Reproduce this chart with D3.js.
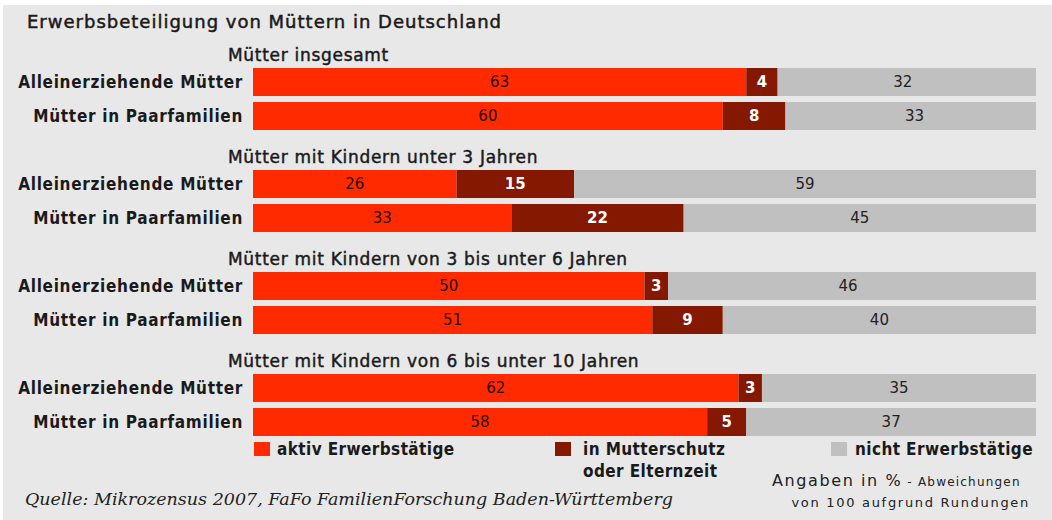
<!DOCTYPE html>
<head>
  <title>Erwerbsbeteiligung von Müttern</title>
  <meta charset="UTF-8" />
  <style>
    body { margin: 0; background: #fff; }
    svg { display: block; }
  </style>
</head>
<body>
  <svg width="1052" height="520"></svg>
</body>

<script src="https://cdn.jsdelivr.net/npm/d3@7"></script>
<script>
  // Data
  const groups = [
    "Mütter insgesamt",
    "Mütter mit Kindern unter 3 Jahren",
    "Mütter mit Kindern von 3 bis unter 6 Jahren",
    "Mütter mit Kindern von 6 bis unter 10 Jahren"
  ];
  const rowLabels = ["Alleinerziehende Mütter", "Mütter in Paarfamilien"];
  const series = ["aktiv Erwerbstätige", "in Mutterschutz oder Elternzeit", "nicht Erwerbstätige"];
  const aktiv = [63, 60, 26, 33, 50, 51, 62, 58];
  const mutterschutz = [4, 8, 15, 22, 3, 9, 3, 5];
  const nicht = [32, 33, 59, 45, 46, 40, 35, 37];

  const colors = ["#ff2a00", "#851800", "#c0c0c0"];
  const labelColors = ["#2a0a00", "#ffffff", "#222222"];
  const sansFont = "'DejaVu Sans', sans-serif";
  const condFont = "'DejaVu Sans Condensed', 'DejaVu Sans', sans-serif";

  const svg = d3.select("svg");

  // background panel
  svg.append("rect")
    .attr("x", 3).attr("y", 5)
    .attr("width", 1049).attr("height", 515)
    .attr("fill", "#e8e8e8");

  // scales
  const x = d3.scaleLinear().domain([0, 100]).range([253, 1036]);
  const gy = d3.scaleBand().domain(groups).range([47, 455]);
  const ry = d3.scaleBand().domain(rowLabels).range([0, 62]).paddingInner(0.176);
  const barOffset = 21;

  // rows table built from arrays
  const rows = [];
  groups.forEach((g, gi) => {
    rowLabels.forEach((r, ri) => {
      const i = gi * 2 + ri;
      const vals = [aktiv[i], mutterschutz[i], nicht[i]];
      let start = 0;
      const segs = vals.map((v, si) => {
        const s = { v, si, x0: start, x1: si === 2 ? 100 : start + v };
        start += v;
        return s;
      });
      rows.push({ group: g, row: r, segs });
    });
  });

  // title
  svg.append("text")
    .attr("x", 27).attr("y", 28)
    .attr("font-family", sansFont)
    .attr("font-size", 18)
    .attr("letter-spacing", 1)
    .attr("fill", "#1a1a1a")
    .attr("stroke", "#1a1a1a")
    .attr("stroke-width", 0.5)
    .text("Erwerbsbeteiligung von Müttern in Deutschland");

  // group titles
  svg.selectAll(".gtitle")
    .data(groups)
    .join("text")
    .attr("class", "gtitle")
    .attr("x", 228)
    .attr("y", d => gy(d) + 14)
    .attr("font-family", sansFont)
    .attr("font-size", 17)
    .attr("letter-spacing", 0.7)
    .attr("fill", "#1a1a1a")
    .attr("stroke", "#1a1a1a")
    .attr("stroke-width", 0.45)
    .text(d => d);

  const rowG = svg.selectAll(".row")
    .data(rows)
    .join("g")
    .attr("class", "row")
    .attr("transform", d => `translate(0,${gy(d.group) + barOffset + ry(d.row)})`);

  // row labels
  rowG.append("text")
    .attr("x", 243)
    .attr("y", ry.bandwidth() / 2)
    .attr("dy", "0.36em")
    .attr("text-anchor", "end")
    .attr("font-family", condFont)
    .attr("font-size", 17)
    .attr("font-weight", "bold")
    .attr("letter-spacing", 0.7)
    .attr("fill", "#1a1a1a")
    .text(d => d.row);

  // bars
  rowG.selectAll("rect")
    .data(d => d.segs)
    .join("rect")
    .attr("x", d => x(d.x0))
    .attr("y", 0)
    .attr("width", d => x(d.x1) - x(d.x0))
    .attr("height", ry.bandwidth())
    .attr("fill", d => colors[d.si]);

  // value labels
  rowG.selectAll(".val")
    .data(d => d.segs)
    .join("text")
    .attr("class", "val")
    .attr("x", d => (x(d.x0) + x(d.x0 + d.v)) / 2)
    .attr("y", ry.bandwidth() / 2)
    .attr("dy", "0.36em")
    .attr("text-anchor", "middle")
    .attr("font-family", sansFont)
    .attr("font-size", 15)
    .attr("font-weight", d => d.si === 1 ? "bold" : "normal")
    .attr("fill", d => labelColors[d.si])
    .text(d => d.v);

  // legend
  const legendX = [254, 555, 831];
  const legendLines = [["aktiv Erwerbstätige"], ["in Mutterschutz", "oder Elternzeit"], ["nicht Erwerbstätige"]];
  const leg = svg.selectAll(".leg")
    .data(series)
    .join("g")
    .attr("class", "leg")
    .attr("transform", (d, i) => `translate(${legendX[i]},442)`);
  leg.append("rect")
    .attr("width", 16).attr("height", 14)
    .attr("fill", (d, i) => colors[i]);
  leg.each(function (d, i) {
    d3.select(this).selectAll("text")
      .data(legendLines[i])
      .join("text")
      .attr("x", [23, 28, 24][i])
      .attr("y", (t, j) => 13 + j * 22)
      .attr("font-family", condFont)
      .attr("font-size", 17)
      .attr("font-weight", "bold")
      .attr("letter-spacing", 0.4)
      .attr("fill", "#1a1a1a")
      .text(t => t);
  });

  // note
  const note = svg.append("text")
    .attr("x", 772).attr("y", 486)
    .attr("font-family", sansFont)
    .attr("fill", "#222");
  note.append("tspan").attr("font-size", 16).attr("letter-spacing", 1.6).text("Angaben in %");
  note.append("tspan").attr("font-size", 12).attr("letter-spacing", 1.2).text(" - Abweichungen");
  svg.append("text")
    .attr("x", 1030).attr("y", 507)
    .attr("text-anchor", "end")
    .attr("font-family", sansFont)
    .attr("font-size", 13)
    .attr("letter-spacing", 1.7)
    .attr("fill", "#222")
    .text("von 100 aufgrund Rundungen");

  // source
  svg.append("text")
    .attr("x", 25).attr("y", 505)
    .attr("font-family", "'DejaVu Serif', serif")
    .attr("font-style", "italic")
    .attr("font-size", 17.5)
    .attr("fill", "#222")
    .text("Quelle: Mikrozensus 2007, FaFo FamilienForschung Baden-Württemberg");
</script>
